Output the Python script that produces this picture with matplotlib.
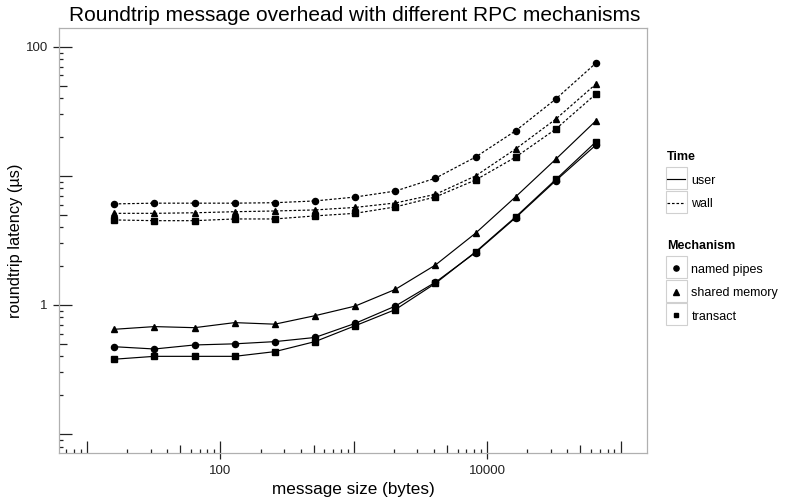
import numpy as np
import matplotlib
matplotlib.use("Agg")
import matplotlib.pyplot as plt
from matplotlib.lines import Line2D
from matplotlib.patches import Rectangle
from matplotlib.ticker import FixedLocator, NullFormatter, NullLocator, LogLocator

plt.rcParams['font.family'] = ['Liberation Sans', 'DejaVu Sans']

# message sizes (bytes)
sizes = [16, 32, 64, 128, 256, 512, 1024, 2048, 4096, 8192, 16384, 32768, 65536]

# roundtrip latency (us), user time
user_pipes = [0.475, 0.456, 0.49, 0.50, 0.52, 0.56, 0.72, 0.98, 1.50, 2.55, 4.75, 9.2, 17.4]
user_shm = [0.648, 0.68, 0.667, 0.73, 0.71, 0.826, 0.98, 1.32, 2.04, 3.6, 6.9, 13.5, 26.8]
user_transact = [0.38, 0.40, 0.40, 0.40, 0.435, 0.52, 0.69, 0.92, 1.47, 2.58, 4.82, 9.4, 18.4]

# roundtrip latency (us), wall time
wall_pipes = [6.07, 6.15, 6.15, 6.15, 6.2, 6.4, 6.86, 7.63, 9.6, 14.0, 22.4, 39.5, 75.0]
wall_shm = [5.13, 5.13, 5.18, 5.28, 5.35, 5.45, 5.7, 6.17, 7.2, 10.0, 16.2, 27.6, 51.6]
wall_transact = [4.56, 4.5, 4.5, 4.64, 4.64, 4.9, 5.13, 5.75, 6.87, 9.3, 14.0, 23.1, 43.2]

time_labels = ['user', 'wall']
mech_labels = ['named pipes', 'shared memory', 'transact']
x_labeled = [100, 10000]
y_labeled = [1, 100]

markers = {'named pipes': 'o', 'shared memory': '^', 'transact': 's'}
msizes = {'named pipes': 4.4, 'shared memory': 5.0, 'transact': 4.1}
styles = {'user': '-', 'wall': (0, (2.2, 1.6))}

series = {
    ('user', 'named pipes'): user_pipes,
    ('user', 'shared memory'): user_shm,
    ('user', 'transact'): user_transact,
    ('wall', 'named pipes'): wall_pipes,
    ('wall', 'shared memory'): wall_shm,
    ('wall', 'transact'): wall_transact,
}

fig = plt.figure(figsize=(7.95, 5.0), dpi=100)
ax = fig.add_axes([59/795, 47/500, (647-59)/795, (453-28)/500])

for (t, m), vals in series.items():
    ax.plot(sizes, vals, color='black', lw=0.85, ls=styles[t],
            marker=markers[m], ms=msizes[m], mec='black', mfc='black')

ax.set_xscale('log')
ax.set_yscale('log')
ax.set_xlim(6.17, 1.58e5)
ax.set_ylim(0.0713, 140)

tick_col = '#222222'
for sp in ax.spines.values():
    sp.set_color('#b0b0b0')
    sp.set_linewidth(0.9)

# log ticks drawn inside the panel: decades long, 5s mid, rest short
for axis in (ax.xaxis, ax.yaxis):
    axis.set_major_locator(LogLocator(base=10, numticks=100))
    axis.set_minor_locator(LogLocator(base=10, subs=[2, 3, 4, 6, 7, 8, 9], numticks=100))
    axis.set_major_formatter(NullFormatter())
    axis.set_minor_formatter(NullFormatter())
ax.tick_params(which='major', direction='in', length=9, width=0.9, color=tick_col)
ax.tick_params(which='minor', direction='in', length=3, width=0.9, color=tick_col)

mid_x = [5 * 10**k for k in range(0, 6)]
mid_y = [5 * 10.0**k for k in range(-2, 3)]
sx = ax.secondary_xaxis('bottom')
sx.xaxis.set_major_locator(FixedLocator(mid_x))
sx.xaxis.set_minor_locator(NullLocator())
sx.xaxis.set_major_formatter(NullFormatter())
sx.tick_params(direction='in', length=6, width=0.9, color=tick_col)
sx.spines['bottom'].set_visible(False)
sy = ax.secondary_yaxis('left')
sy.yaxis.set_major_locator(FixedLocator(mid_y))
sy.yaxis.set_minor_locator(NullLocator())
sy.yaxis.set_major_formatter(NullFormatter())
sy.tick_params(direction='in', length=6, width=0.9, color=tick_col)
sy.spines['left'].set_visible(False)

# labelled axis ticks, pointing outward
lx = ax.secondary_xaxis('bottom')
lx.xaxis.set_major_locator(FixedLocator(x_labeled))
lx.xaxis.set_minor_locator(NullLocator())
lx.set_xticklabels([str(v) for v in x_labeled])
lx.tick_params(direction='out', length=4, width=0.9, color=tick_col, labelsize=9.5,
               labelcolor='#222222', pad=5)
lx.spines['bottom'].set_visible(False)
ly = ax.secondary_yaxis('left')
ly.yaxis.set_major_locator(FixedLocator(y_labeled))
ly.yaxis.set_minor_locator(NullLocator())
ly.set_yticklabels([str(v) for v in y_labeled])
ly.tick_params(direction='out', length=4, width=0.9, color=tick_col, labelsize=9.5,
               labelcolor='#222222', pad=4)
ly.spines['left'].set_visible(False)

lx.set_xlabel('message size (bytes)', fontsize=12.3, labelpad=3)
ly.set_ylabel('roundtrip latency (µs)', fontsize=11.8, labelpad=2)
fig.text(355/795, 1 - 21/500, 'Roundtrip message overhead with different RPC mechanisms',
         ha='center', va='baseline', fontsize=15)

# legends
time_handles = [Line2D([], [], color='black', lw=0.85, ls=styles[t]) for t in time_labels]
mech_handles = [Line2D([], [], color='black', ls='None', marker=markers[m], ms=msizes[m] * 0.85)
                for m in mech_labels]
leg_kw = dict(frameon=False, alignment='left', fontsize=9, handlelength=1.45,
              handletextpad=0.5, labelspacing=0.92, borderpad=0, borderaxespad=0,
              title_fontproperties={'weight': 'bold', 'size': 9})
leg1 = fig.legend(time_handles, time_labels, title='Time', loc='upper left',
                  bbox_to_anchor=(667/795, 1 - 151/500), **leg_kw)
leg2 = fig.legend(mech_handles, mech_labels, title='Mechanism', loc='upper left',
                  bbox_to_anchor=(667/795, 1 - 240/500), **leg_kw)

# light boxes around the legend keys
fig.canvas.draw()
rend = fig.canvas.get_renderer()
box = 21
for leg in (leg1, leg2):
    for h in leg.legend_handles:
        bb = h.get_window_extent(rend)
        cx, cy = (bb.x0 + bb.x1) / 2, (bb.y0 + bb.y1) / 2
        fig.patches.append(Rectangle(((cx - box / 2) / 795, (cy - box / 2 + 0.5) / 500),
                                     box / 795, (box + 1) / 500, transform=fig.transFigure,
                                     fill=False, edgecolor='#d0d0d0', lw=0.8))

fig.savefig('out.png', dpi=100)
